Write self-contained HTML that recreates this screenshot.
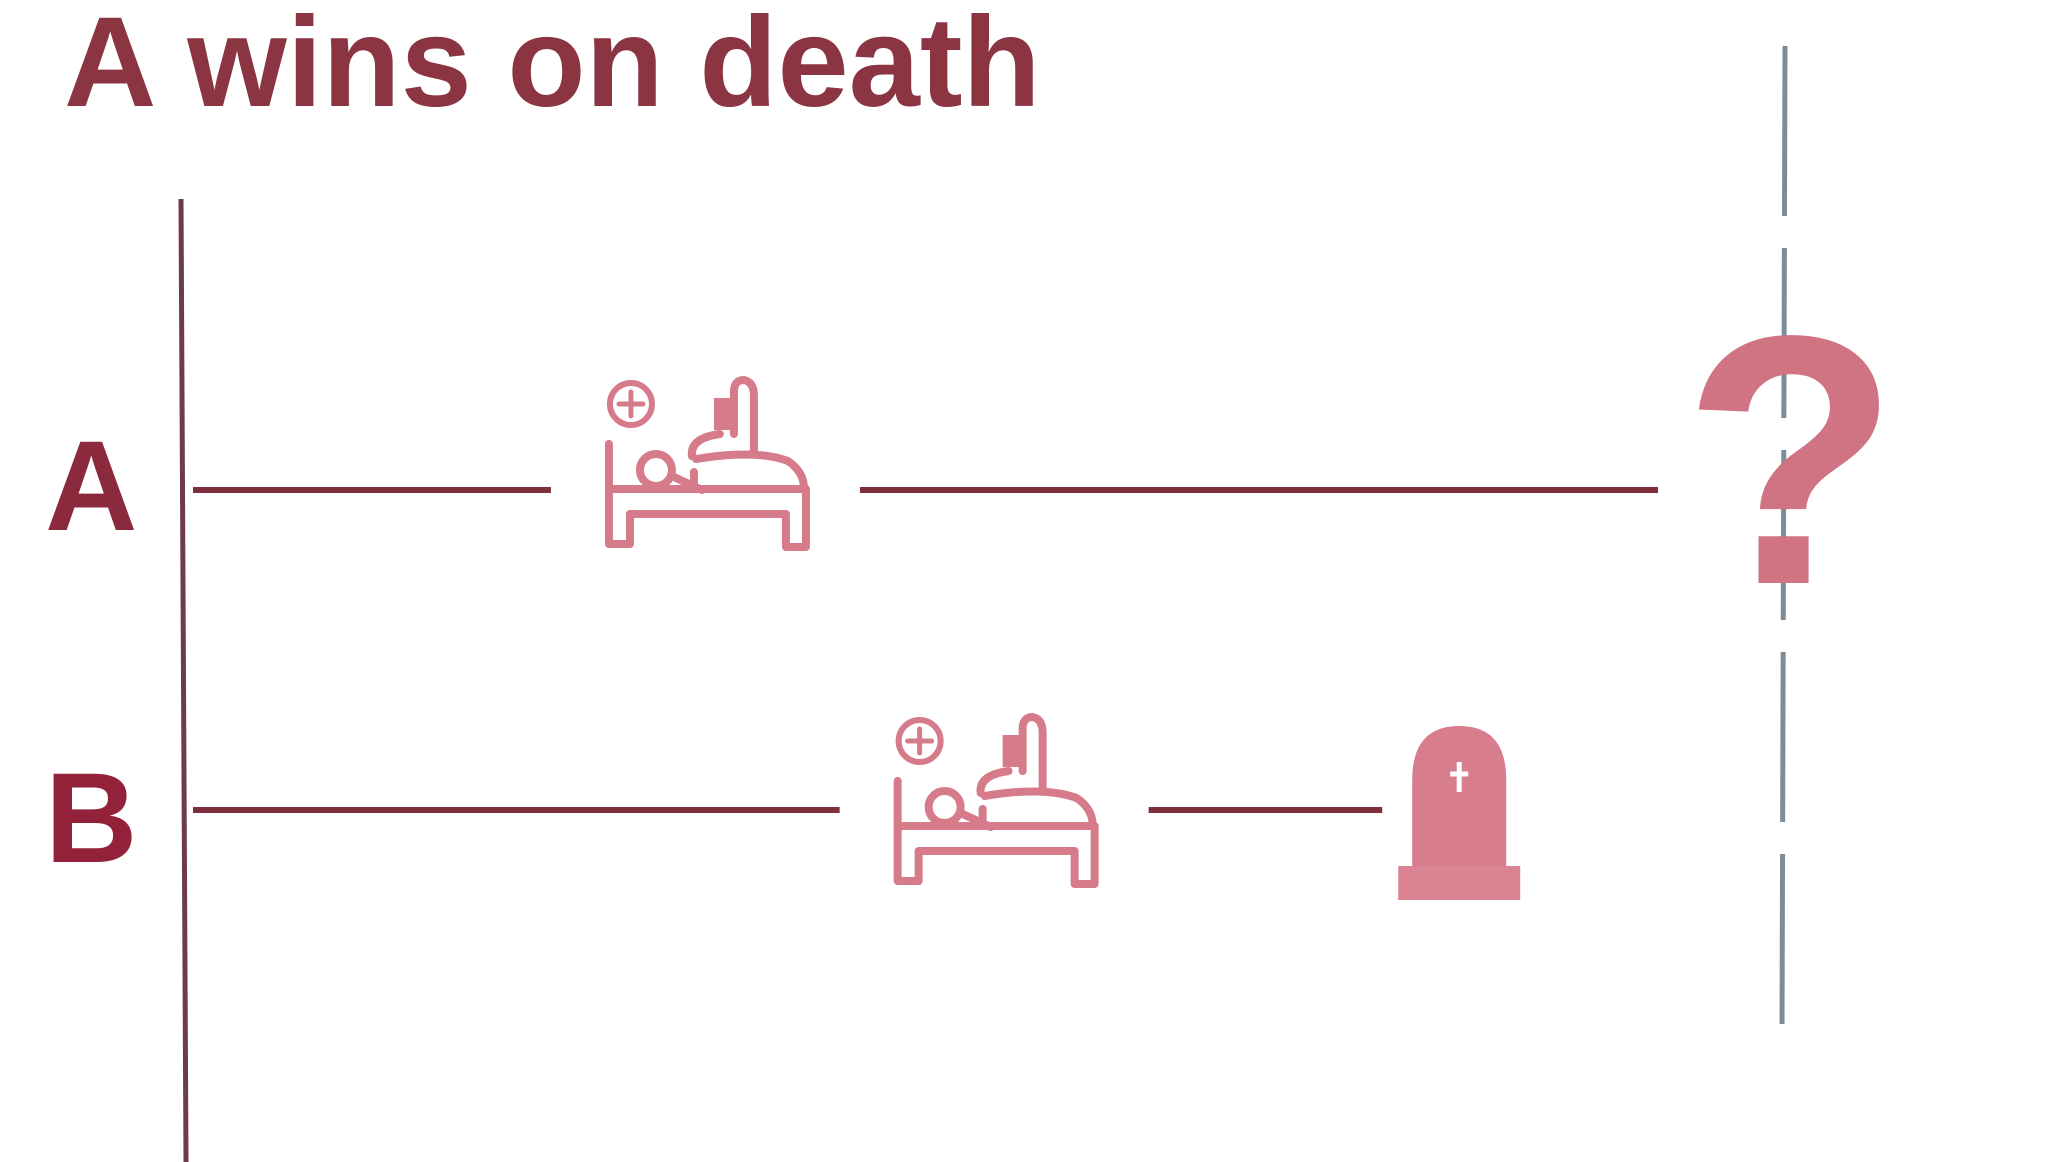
<!DOCTYPE html>
<html><head><meta charset="utf-8"><style>
html,body{margin:0;padding:0;background:#fff;}
svg{display:block;}
</style></head><body>
<svg id="chart" width="2048" height="1162" viewBox="0 0 2048 1162" xmlns="http://www.w3.org/2000/svg">
<text x="64" y="106" font-family="Liberation Sans, sans-serif" font-weight="bold" font-size="128" fill="#8b3442">A wins on death</text>
<line x1="181" y1="199" x2="186" y2="1162" stroke="#6e3c47" stroke-width="5"/>
<line x1="1785" y1="46" x2="1782" y2="1034" stroke="#7d8c97" stroke-width="5" stroke-dasharray="170,32"/>
<g id="marks"></g>
</svg>
<script>
const categories = ['A', 'B'];
const hospitalTimes = [33.1, 51.2];
const deathTimes = [null, 79.7];
const followUpEnd = 100;

const NS = 'http://www.w3.org/2000/svg';
const x0 = 188, x1 = 1783;
function xScale(t){ return x0 + t * (x1 - x0) / followUpEnd; }
const rowY = [490, 810];
const iconDy = [4, 21];
const labelBaseline = [530, 862];
const labelX = 45;
const root = document.getElementById('marks');
const lineColor = '#7e2f3c';
const iconColor = '#d47484';

function el(tag, attrs, parent){
  const e = document.createElementNS(NS, tag);
  for (const k in attrs) e.setAttribute(k, attrs[k]);
  (parent || root).appendChild(e);
  return e;
}

function drawBed(cx, cy, parent){
  const g = el('g', {transform: 'translate(' + cx + ',' + cy + ')', fill: 'none', stroke: iconColor, 'stroke-width': 8, 'stroke-linecap': 'round', 'stroke-linejoin': 'round', opacity: 0.95}, parent);
  el('circle', {cx: -85, cy: -90, r: 21, 'stroke-width': 6}, g);
  el('path', {d: 'M-97 -90 H-73 M-85 -102 V-78', 'stroke-width': 5}, g);
  el('path', {d: 'M-107 -50 V50 H-86 V20 H70 V53 H90 V-5 H-103'}, g);
  el('circle', {cx: -60, cy: -24, r: 16}, g);
  el('path', {d: 'M-44 -18 L-14 -4 M-22 -22 V-5'}, g);
  el('path', {d: 'M-20 -35 Q40 -45 72 -33 Q88 -22 88 -6'}, g);
  el('path', {d: 'M-24 -38 Q-26 -56 4 -60 M18 -60 V-102 Q18 -114 28 -114 Q38 -112 38 -98 V-40'}, g);
  el('rect', {x: -2, y: -96, width: 18, height: 32, fill: iconColor, stroke: 'none'}, g);
}

function drawTomb(cx, cy, parent){
  const g = el('g', {transform: 'translate(' + cx + ',' + cy + ')'}, parent);
  el('path', {d: 'M-47 62 V-30 Q-47 -84 0 -84 Q47 -84 47 -30 V62 Z', fill: '#d77d8d'}, g);
  el('rect', {x: -61, y: 56, width: 122, height: 34, fill: '#d98393'}, g);
  el('path', {d: 'M-9 -36 H9 M0 -48 V-18', stroke: '#fff', 'stroke-width': 5}, g);
}

categories.forEach((cat, i) => {
  const y = rowY[i];
  const g = el('g', {});
  
  
  const lab = el('text', {x: labelX, y: labelBaseline[i], 'font-family': 'Liberation Sans, sans-serif', 'font-weight': 'bold', 'font-size': 128, fill: i === 0 ? '#8b2a3c' : '#93213a'}, g);
  lab.textContent = cat;
  
  
  const hx = xScale(hospitalTimes[i]);
  const l1 = el('line', {x1: x0 + 5, y1: y, x2: hx - 165, y2: y, stroke: lineColor, 'stroke-width': 6}, g);
  
  
  const bed = el('g', {}, g);
  
  
  drawBed(hx, y + iconDy[i], bed);
  const endT = deathTimes[i] === null ? followUpEnd : deathTimes[i];
  const ex = xScale(endT);
  const l2 = el('line', {x1: hx + 144, y1: y, x2: ex - (deathTimes[i] === null ? 125 : 77), y2: y, stroke: lineColor, 'stroke-width': 6}, g);
  
  
  if (deathTimes[i] === null) {
    const q = el('text', {x: ex + 8, y: y + 93, 'text-anchor': 'middle', 'font-family': 'Liberation Sans, sans-serif', 'font-weight': 'bold', 'font-size': 355, fill: '#d07383'}, g);
    q.textContent = '?';
    
    
  } else {
    const t = el('g', {}, g);
    
    
    drawTomb(ex, y, t);
  }
});
</script>
</body></html>
